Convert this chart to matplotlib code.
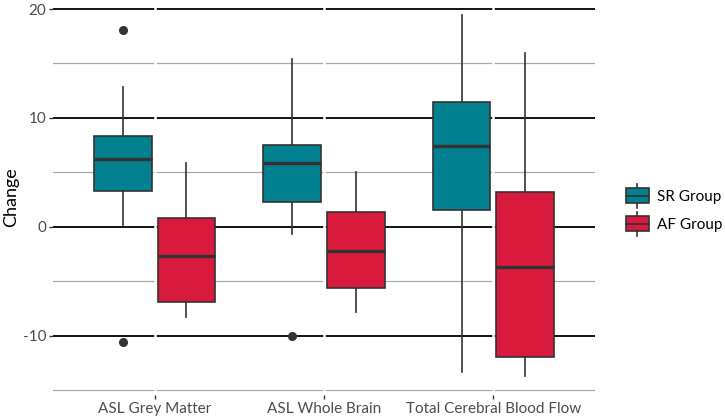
import numpy as np
import matplotlib.pyplot as plt
from matplotlib.patches import Rectangle
from matplotlib.lines import Line2D
from matplotlib.legend_handler import HandlerBase

plt.rcParams['font.family'] = ['Lato', 'DejaVu Sans']

categories = ["ASL Grey Matter", "ASL Whole Brain", "Total Cerebral Blood Flow"]
groups = ["SR Group", "AF Group"]
colors = {"SR Group": "#01808f", "AF Group": "#d81b3c"}

# five-number summaries: whislo, q1, med, q3, whishi
sr_lo = [0.15, -0.7, -13.3]
sr_q1 = [3.3, 2.3, 1.5]
sr_med = [6.2, 5.85, 7.4]
sr_q3 = [8.35, 7.55, 11.45]
sr_hi = [12.8, 15.4, 19.45]
sr_out = [[18.1, -10.6], [-10.05], []]

af_lo = [-8.3, -7.85, -13.75]
af_q1 = [-6.9, -5.65, -12.0]
af_med = [-2.7, -2.2, -3.7]
af_q3 = [0.85, 1.35, 3.15]
af_hi = [5.9, 5.05, 16.0]
af_out = [[], [], []]

edge = "#333333"

fig = plt.figure(figsize=(7.25, 4.2), dpi=100)
ax = fig.add_axes([53 / 725, 25 / 420, 542 / 725, 395 / 420])

x = np.arange(1, len(categories) + 1)
data = {
    "SR Group": (sr_lo, sr_q1, sr_med, sr_q3, sr_hi, sr_out),
    "AF Group": (af_lo, af_q1, af_med, af_q3, af_hi, af_out),
}
offsets = {"SR Group": -0.1875, "AF Group": 0.1875}

for g in groups:
    lo, q1, med, q3, hi, out = data[g]
    stats = []
    for i in range(len(categories)):
        stats.append(dict(whislo=lo[i], q1=q1[i], med=med[i], q3=q3[i],
                          whishi=hi[i], fliers=out[i]))
    ax.bxp(stats, positions=x + offsets[g], widths=0.34, patch_artist=True,
           showcaps=False, manage_ticks=False, zorder=3,
           boxprops=dict(facecolor=colors[g], edgecolor=edge, linewidth=1.2),
           medianprops=dict(color=edge, linewidth=2.4),
           whiskerprops=dict(color=edge, linewidth=1.2),
           flierprops=dict(marker='o', markerfacecolor=edge, markeredgecolor=edge,
                           markersize=5.5))

# grid: major black, minor grey, white verticals at categories
for v in [-10, 0, 10, 20]:
    ax.axhline(v, color="black", linewidth=1.3, zorder=1)
for v in [-15, -5, 5, 15]:
    ax.axhline(v, color="#aaaaaa", linewidth=0.9, zorder=1)
for xi in x:
    ax.axvline(xi, color="white", linewidth=1.8, zorder=1.5)

ax.set_xlim(0.4, 3.6)
ax.set_ylim(-15.45, 20.83)
ax.set_xticks(x)
ax.set_xticklabels(categories)
ax.set_yticks([-10, 0, 10, 20])
ax.set_yticklabels(["-10", "0", "10", "20"])
ax.tick_params(axis='both', colors="#333333", labelcolor="#4d4d4d", labelsize=11,
               length=2.8, width=1.0, pad=2)
for s in ax.spines.values():
    s.set_visible(False)
ax.set_ylabel("Change", fontsize=13, color="black", labelpad=3)


class BoxHandler(HandlerBase):
    def create_artists(self, legend, orig_handle, xdescent, ydescent, width, height,
                       fontsize, trans):
        x0, y0 = -xdescent, -ydescent
        rect = Rectangle((x0, y0), width, height, facecolor=orig_handle.get_facecolor(),
                         edgecolor=edge, linewidth=1.2, transform=trans)
        cx = x0 + width / 2
        w1 = Line2D([cx, cx], [y0 + height, y0 + height * 1.3], color=edge, lw=1.2,
                    transform=trans)
        w2 = Line2D([cx, cx], [y0 - height * 0.3, y0], color=edge, lw=1.2,
                    transform=trans)
        m = Line2D([x0, x0 + width], [y0 + height / 2] * 2, color=edge, lw=1.2,
                   transform=trans)
        return [w1, w2, rect, m]


handles = [Rectangle((0, 0), 1, 1, facecolor=colors[g]) for g in groups]
fig.legend(handles, groups, handler_map={Rectangle: BoxHandler()},
           loc="center left", bbox_to_anchor=(626 / 725, 1 - 210 / 420),
           frameon=False, fontsize=11, handlelength=1.5, handleheight=1.15,
           labelspacing=0.8, handletextpad=0.5, borderpad=0, borderaxespad=0,
           labelcolor="black")

fig.savefig("out.png", dpi=100)
